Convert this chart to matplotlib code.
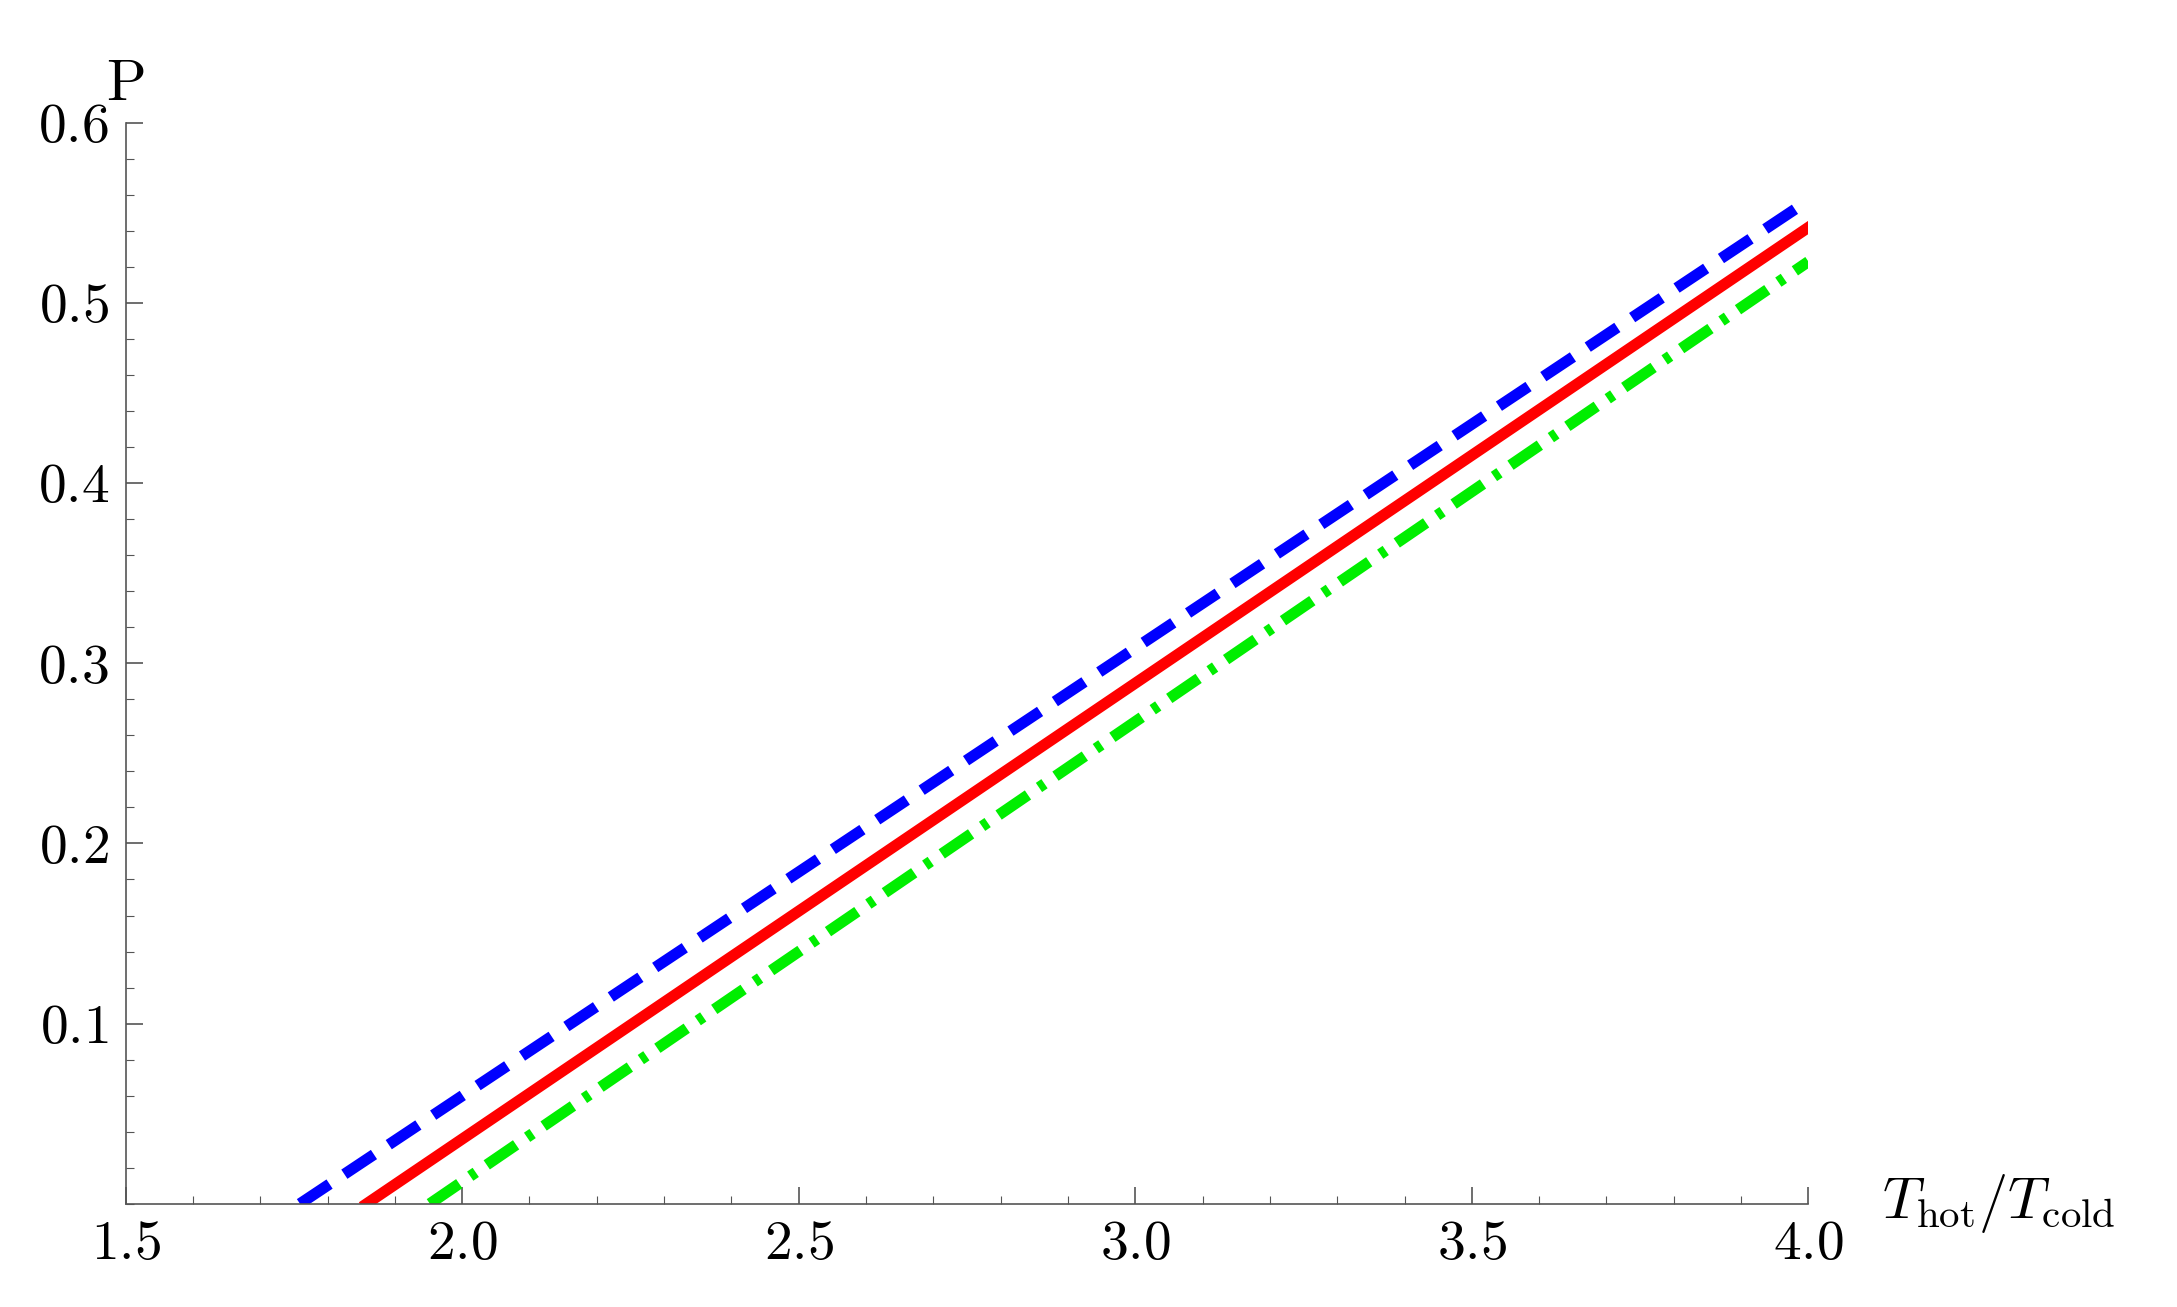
import matplotlib
matplotlib.use("Agg")
import matplotlib.pyplot as plt
from matplotlib.ticker import MultipleLocator, FixedLocator

plt.rcParams['mathtext.fontset'] = 'cm'
plt.rcParams['font.family'] = 'serif'
plt.rcParams['font.serif'] = ['cmr10']
plt.rcParams['axes.formatter.use_mathtext'] = True

blue_x = [1.759, 4.0]; blue_y = [0.0, 0.557]
red_x = [1.858, 4.0]; red_y = [0.0, 0.542]
green_x = [1.952, 4.0]; green_y = [0.0, 0.523]
xticks = [1.5, 2.0, 2.5, 3.0, 3.5, 4.0]
yticks = [0.1, 0.2, 0.3, 0.4, 0.5, 0.6]

fig = plt.figure(figsize=(21.77, 13.07), dpi=100)
ax = fig.add_axes([0.0577, 0.079, 0.773, 0.827])
ax.plot(blue_x, blue_y, color='#0000ff', lw=8, ls=(0, (3.2, 1.6)))
ax.plot(red_x, red_y, color='#ff0000', lw=8)
ax.plot(green_x, green_y, color='#00ee00', lw=8, ls=(0, (3.2, 1.2, 0.6, 1.2)))
ax.set_xlim(1.5, 4.0)
ax.set_ylim(0, 0.6)
for s in ['top', 'right']:
    ax.spines[s].set_visible(False)
for s in ['left', 'bottom']:
    ax.spines[s].set_color('#555555')
    ax.spines[s].set_linewidth(1.2)
ax.xaxis.set_major_locator(FixedLocator(xticks))
ax.yaxis.set_major_locator(FixedLocator(yticks))
ax.xaxis.set_minor_locator(MultipleLocator(0.1))
ax.yaxis.set_minor_locator(MultipleLocator(0.02))
ax.set_xticklabels([f'${t:.1f}$' for t in xticks])
ax.set_yticklabels([f'${t:.1f}$' for t in yticks])
ax.tick_params(which='both', direction='in', color='#555555', labelsize=40)
ax.tick_params(which='major', length=12, width=1.2, pad=12)
ax.tick_params(which='minor', length=6, width=0.8)
fig.text(0.0577, 0.935, r'$\mathrm{P}$', fontsize=42, ha='center', va='center')
fig.text(0.918, 0.079, r'$T_{\mathrm{hot}}/T_{\mathrm{cold}}$', fontsize=42, ha='center', va='center')
fig.savefig('out.png', dpi=100)
